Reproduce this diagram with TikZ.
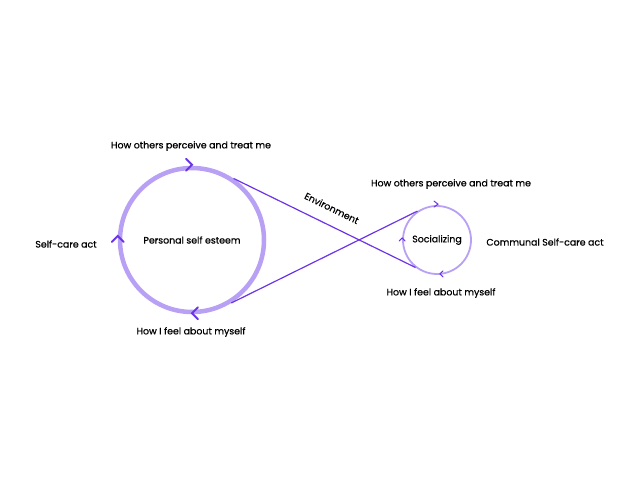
\documentclass[tikz,border=0pt]{standalone}
\usepackage{fontspec}
\setmainfont{Poppins}[UprightFeatures={FakeBold=0.7}]
\usepackage{tikz}
\usetikzlibrary{positioning,calc}
\usepackage{xcolor}
\definecolor{ringlilac}{RGB}{184,160,245}
\definecolor{deepviolet}{RGB}{108,52,230}

\begin{document}
\begin{tikzpicture}[x=1pt,y=1pt,every node/.style={font=\fontsize{9.4}{11}\selectfont},
  bigring/.style={draw=ringlilac,circle,line width=4.5pt,minimum size=144pt},
  smallring/.style={draw=ringlilac,circle,line width=1.8pt,minimum size=68pt},
  link/.style={draw=deepviolet,line width=1.2pt},
  chev/.style={draw=deepviolet,line width=1.8pt,line cap=round,line join=miter},
  smallchev/.style={draw=deepviolet,line width=1pt,line cap=round}]
\useasboundingbox (0,0) rectangle (640,480);
\node[bigring]   (esteem) at (192,240) {Personal self esteem};
\node[smallring] (social) at (437,240) {Socializing};
\node (othersL) at (191,334) {How others perceive and treat me};
\node (careL)   at (66,236)  {Self-care act};
\node (feelL)   at (191,148) {How I feel about myself};
\node (othersR) at (451,296) {How others perceive and treat me};
\node (careR)   at (545,238) {Communal Self-care act};
\node (feelR)   at (441,187) {How I feel about myself};
\draw[link] (esteem.56) -- node[pos=0.5,sloped,above=9pt] (env) {Environment} (social.232);
\draw[link] (esteem.-58) -- (social.124);
% arrows on the rings
\draw[chev] ($(esteem.north)+(-6,7)$) -- ($(esteem.north)+(0,1)$) -- ($(esteem.north)+(-6,-5)$);
\draw[chev] ($(esteem.west)+(-6,-2)$) -- ($(esteem.west)+(0,4)$) -- ($(esteem.west)+(6,-2)$);
\draw[chev] ($(esteem.south)+(6,7)$) -- ($(esteem.south)+(0,1)$) -- ($(esteem.south)+(6,-5)$);
\draw[smallchev] ($(social.north)+(-3,4)$) -- ($(social.north)+(1,1)$) -- ($(social.north)+(-3,-2)$);
\draw[smallchev] ($(social.west)+(-3,-1)$) -- ($(social.west)+(0,2)$) -- ($(social.west)+(3,-1)$);
\draw[smallchev] ($(social.south)+(6,4)$) -- ($(social.south)+(3,1)$) -- ($(social.south)+(6,-2)$);
\end{tikzpicture}
\end{document}
